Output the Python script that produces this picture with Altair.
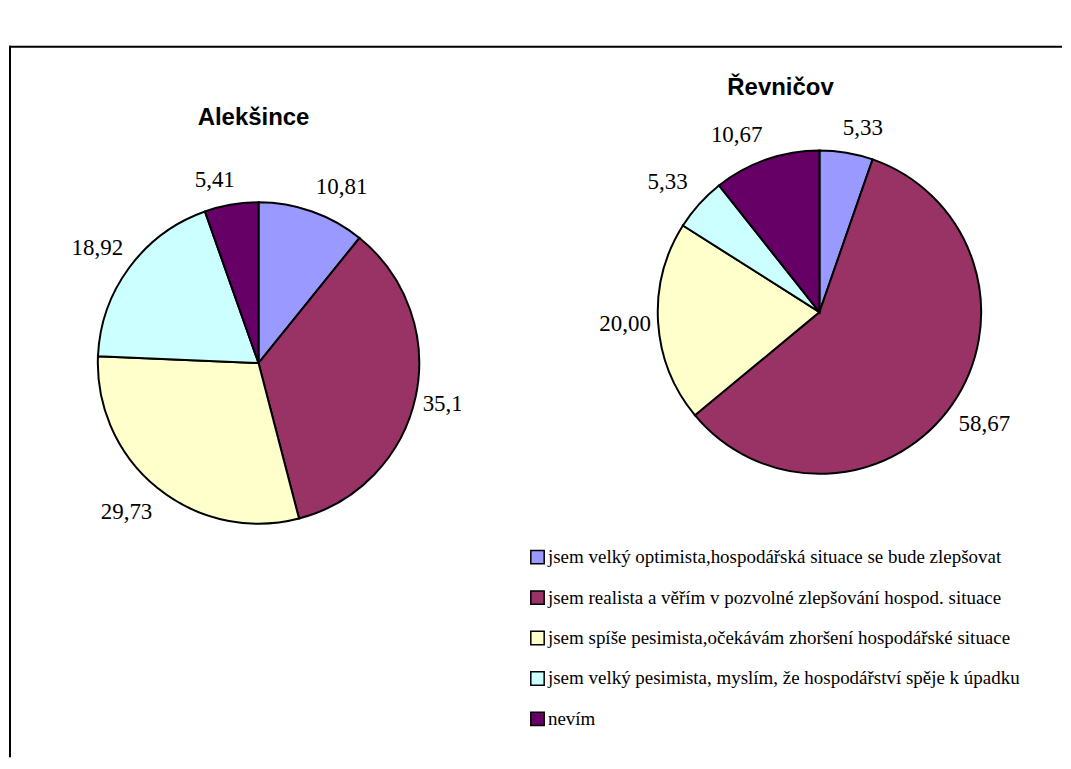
import altair as alt
import pandas as pd

categories = [
    "jsem velký optimista,hospodářská situace se bude zlepšovat",
    "jsem realista a věřím v pozvolné zlepšování hospod. situace",
    "jsem spíše pesimista,očekávám zhoršení hospodářské situace",
    "jsem velký pesimista, myslím, že hospodářství spěje k úpadku",
    "nevím",
]
alek_values = [10.81, 35.14, 29.73, 18.92, 5.41]
revn_values = [5.33, 58.67, 20.00, 5.33, 10.67]
places = ["Alekšince", "Řevničov"]
colors = ["#9999FF", "#993366", "#FFFFCC", "#CCFFFF", "#660066"]

H = 750
LW, RW = 453, 602


def pie_panel(place, values, width, cx, cy, radius, tx, ty, legend):
    df = pd.DataFrame({"category": categories, "value": values,
                       "order": list(range(len(categories)))})
    base = alt.Chart(df)
    color = alt.Color("category:N",
                      scale=alt.Scale(domain=categories, range=colors),
                      legend=legend)
    arcs = base.mark_arc(outerRadius=radius, stroke="black", strokeWidth=2).encode(
        theta=alt.Theta("value:Q", stack=True),
        order=alt.Order("order:Q"),
        color=color,
        x=alt.value(cx), y=alt.value(cy),
    )
    r0 = radius + 5
    labels = alt.Chart(df).transform_joinaggregate(
        total="sum(value)"
    ).transform_window(
        cum="sum(value)", sort=[alt.SortField("order")], frame=[None, 0]
    ).transform_calculate(
        mid="(datum.cum - datum.value/2)/datum.total*2*PI",
    ).transform_calculate(
        dx=f"{r0}*sin(datum.mid) + 28*(sin(datum.mid) > 0 ? 1 : -1)*min(1, abs(sin(datum.mid))/0.3)",
        dy=f"{r0}*cos(datum.mid) + 20*(cos(datum.mid) > 0 ? 1 : -1)*min(1, abs(cos(datum.mid))/0.7)",
        label="replace(format(datum.value, '.2f'), '.', ',')",
    ).transform_calculate(
        lt="atan2(datum.dx, datum.dy)",
        lr="sqrt(datum.dx*datum.dx + datum.dy*datum.dy)",
    ).mark_text(font="Liberation Serif", fontSize=23, color="black",
                baseline="middle", align="center", clip=True).encode(
        theta=alt.Theta("lt:Q", scale=None, stack=None),
        radius=alt.Radius("lr:Q", scale=None),
        text="label:N",
        x=alt.value(cx), y=alt.value(cy),
    )
    tdf = pd.DataFrame({"place": [place]})
    title = alt.Chart(tdf).mark_text(font="Liberation Sans", fontSize=24,
                                     fontWeight="bold", color="black",
                                     baseline="alphabetic", align="center").encode(
        text="place:N", x=alt.value(tx), y=alt.value(ty))
    layers = [arcs, labels, title]
    return alt.layer(*layers).properties(width=width, height=H)


left = pie_panel(places[0], alek_values, LW, 250, 355, 161, 245, 117, None)
frame_df = pd.DataFrame({"place": [places[0]]})
top_rule = alt.Chart(frame_df).mark_rule(color="black", strokeWidth=2).encode(
    x=alt.value(0), x2=alt.value(LW + RW), y=alt.value(38))
left_rule = alt.Chart(frame_df).mark_rule(color="black", strokeWidth=2).encode(
    x=alt.value(1), y=alt.value(37), y2=alt.value(H))
left = alt.layer(top_rule, left_rule, left)

legend = alt.Legend(
    title=None, orient="none", legendX=67, legendY=540,
    symbolType="square", symbolSize=180, symbolStrokeColor="black",
    symbolStrokeWidth=1.5, symbolOpacity=1,
    labelFont="Liberation Serif", labelFontSize=19, labelColor="black",
    labelLimit=700, labelOffset=1, rowPadding=19.5,
)
right = pie_panel(places[1], revn_values, RW, 359, 304, 162, 320, 86, legend)

chart = alt.hconcat(left, right, spacing=0, bounds="flush").properties(
    padding=0, background="white"
).resolve_legend(color="independent").resolve_scale(color="independent").configure_view(
    stroke=None
).configure_legend(
    labelFont="Liberation Serif", labelFontSize=19, labelColor="black",
    symbolSize=180, symbolStrokeColor="black", symbolStrokeWidth=1.5,
    symbolType="square", rowPadding=19.5, labelOffset=1, labelLimit=700,
)

chart.save("out.html", embed_options={"renderer": "svg", "actions": False})
